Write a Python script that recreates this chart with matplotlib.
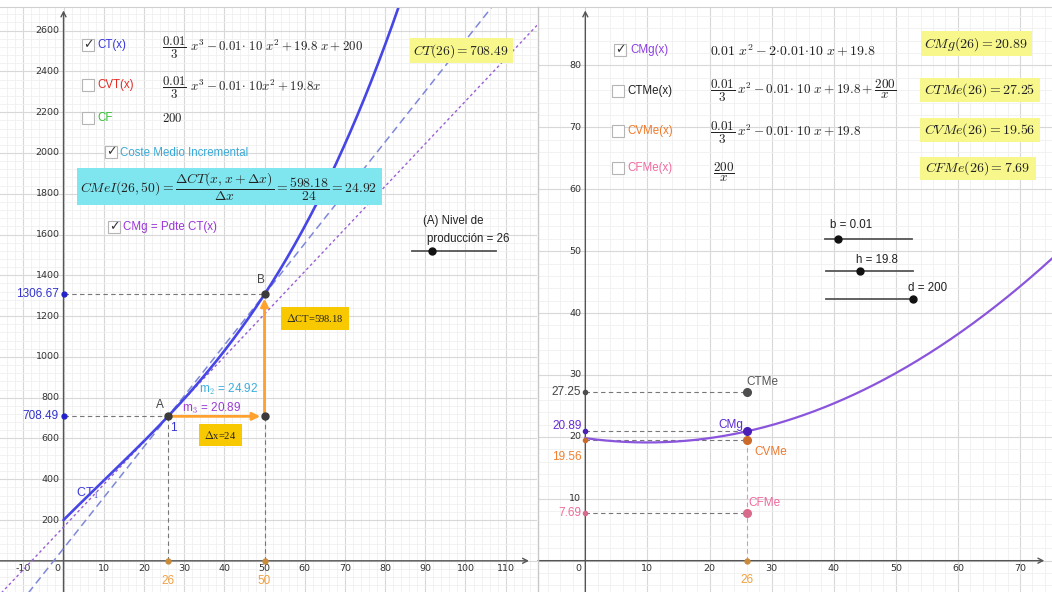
import numpy as np
import matplotlib
matplotlib.use("Agg")
import matplotlib.pyplot as plt
from matplotlib.patches import Rectangle
from matplotlib.lines import Line2D
from matplotlib.transforms import offset_copy

plt.rcParams['mathtext.fontset'] = 'cm'
plt.rcParams['font.family'] = ['Liberation Sans', 'DejaVu Sans']

# ---------------- data ----------------
b_param = 0.007          # shown rounded as 0.01
h_param = 19.8
d_param = 200
x_A = 26                 # nivel de producción
x_B = 50
CT_A = 708.49
CT_B = 1306.67
delta_CT = 598.18
delta_x = 24
m2_secant = 24.92
m3_tangent = 20.89
right_names = ["CTMe", "CMg", "CVMe", "CFMe"]
right_values = [27.25, 20.89, 19.56, 7.69]
left_xticks = [-10, 10, 20, 30, 40, 50, 60, 70, 80, 90, 100, 110]
left_yticks = [200, 400, 600, 800, 1000, 1200, 1400, 1600, 1800, 2000, 2200, 2400, 2600]
right_xticks = [10, 20, 30, 40, 50, 60, 70]
right_yticks = [10, 20, 30, 40, 50, 60, 70, 80]

W, H = 1052, 592
fig = plt.figure(figsize=(W / 100, H / 100), dpi=100)
fig.patch.set_facecolor('white')


def F(px, py):
    return (px / W, 1 - py / H)


def off(ax, dx, dy):
    return offset_copy(ax.transData, fig=fig, x=dx, y=dy, units='dots')


def setup(ax, xlim, ylim, xmaj, xmin_step, ymaj, ymin_step):
    ax.set_xlim(*xlim)
    ax.set_ylim(*ylim)
    ax.set_xticks(np.arange(np.ceil(xlim[0] / xmaj) * xmaj, xlim[1], xmaj))
    ax.set_xticks(np.arange(np.ceil(xlim[0] / xmin_step) * xmin_step, xlim[1], xmin_step), minor=True)
    ax.set_yticks(np.arange(np.ceil(ylim[0] / ymaj) * ymaj, ylim[1], ymaj))
    ax.set_yticks(np.arange(np.ceil(ylim[0] / ymin_step) * ymin_step, ylim[1], ymin_step), minor=True)
    ax.grid(which='major', color='#d8d8d8', lw=0.8)
    ax.grid(which='minor', color='#f0f0f0', lw=0.6)
    ax.set_axisbelow(True)
    ax.tick_params(which='both', length=0, labelbottom=False, labelleft=False)
    for s in ax.spines.values():
        s.set_visible(False)
    ax.annotate('', xy=(xlim[1] - (xlim[1] - xlim[0]) * 0.015, 0), xytext=(xlim[0], 0),
                arrowprops=dict(arrowstyle='->,head_length=0.35,head_width=0.18', color='#555', lw=1.0,
                                shrinkA=0, shrinkB=0), zorder=2)
    ax.annotate('', xy=(0, ylim[1] - (ylim[1] - ylim[0]) * 0.006), xytext=(0, ylim[0]),
                arrowprops=dict(arrowstyle='->,head_length=0.35,head_width=0.18', color='#555', lw=1.0,
                                shrinkA=0, shrinkB=0), zorder=2)


tick_kw = dict(fontsize=6.8, color='#333', family='DejaVu Sans')

# ---------------- left panel ----------------
ax1 = fig.add_axes([0, 0, 537 / W, 585 / H])
xl1 = (-15.80, 117.79)
yl1 = (-153.0, 2716.0)
setup(ax1, xl1, yl1, 10, 2, 200, 40)
for v in left_yticks:
    ax1.text(0, v, str(v), transform=off(ax1, -4, 0), ha='right', va='center', **tick_kw)
for v in left_xticks:
    ax1.text(v, 0, str(v), transform=off(ax1, 0, -8), ha='center', va='center', **tick_kw)
ax1.text(0, 0, "0", transform=off(ax1, -6, -8), ha='center', va='center', **tick_kw)

xs = np.linspace(0, 95, 500)
ct = b_param / 3 * xs ** 3 - 10 * b_param * xs ** 2 + h_param * xs + d_param
ax1.plot(xs, ct, color='#4646e6', lw=1.9, zorder=5, solid_capstyle='round')

xline = np.array(xl1)
ax1.plot(xline, CT_A + m2_secant * (xline - x_A), color='#7f88d8', lw=1.1, ls=(0, (5, 3)), zorder=4)
ax1.plot(xline, CT_A + m3_tangent * (xline - x_A), color='#9a5fd6', lw=1.0, ls=(0, (2, 2)), zorder=4)

dash = dict(color='#777', lw=0.8, ls=(0, (4, 3)), zorder=3)
ax1.plot([0, x_A], [CT_A, CT_A], **dash)
ax1.plot([x_A, x_A], [0, CT_A], **dash)
ax1.plot([0, x_B], [CT_B, CT_B], **dash)
ax1.plot([x_B, x_B], [0, CT_A], **dash)

orange = '#ffa12e'
arr = dict(arrowstyle='-|>,head_length=0.45,head_width=0.22', color=orange, lw=2.0, shrinkA=0, shrinkB=3)
ax1.annotate('', xy=(x_B, CT_A), xytext=(x_A, CT_A), arrowprops=arr, zorder=6)
ax1.annotate('', xy=(x_B, CT_B), xytext=(x_B, CT_A), arrowprops=arr, zorder=6)

for (px, py) in [(x_A, CT_A), (x_B, CT_B), (x_B, CT_A)]:
    ax1.plot(px, py, 'o', ms=5, color='#3a3a3a', zorder=8)
ax1.plot([x_A, x_B], [0, 0], 'o', ms=3.5, color='#c98a3a', zorder=8)
ax1.plot([0, 0], [CT_A, CT_B], 'o', ms=3.5, color='#2222cc', zorder=8)

ax1.text(x_A, CT_A, "A", transform=off(ax1, -8, 11), ha='center', va='center', fontsize=8.5, color='#444')
ax1.text(x_B, CT_B, "B", transform=off(ax1, -4, 14), ha='center', va='center', fontsize=8.5, color='#444')
ax1.text(x_A, CT_A, "1", transform=off(ax1, 5, -12), ha='center', va='center', fontsize=8.5, color='#3333cc')
ax1.text(3.0, 330, r"CT$_1$", ha='left', va='center', fontsize=9, color='#3a3ad8')
ax1.text(33.8, 842, r"m$_2$ = %.2f" % m2_secant, ha='left', va='center', fontsize=8.5, color='#3aaee0', zorder=9)
ax1.text(29.5, 749, r"m$_3$ = %.2f" % m3_tangent, ha='left', va='center', fontsize=8.5, color='#9b3ad6', zorder=9)
ax1.text(0, CT_B, "%.2f" % CT_B, transform=off(ax1, -5, 0), ha='right', va='center', fontsize=8.5, color='#3333cc')
ax1.text(0, CT_A, "%.2f" % CT_A, transform=off(ax1, -5, 0), ha='right', va='center', fontsize=8.5, color='#3333cc')
ax1.text(x_A, 0, str(x_A), transform=off(ax1, 0, -20), ha='center', va='center', fontsize=8.5, color='#f0a040')
ax1.text(x_B, 0, str(x_B), transform=off(ax1, 0, -20), ha='center', va='center', fontsize=8.5, color='#f0a040')

gold = '#f8c800'
ax1.text(62.6, 1189, r"$\Delta$CT=%.2f" % delta_CT, ha='center', va='center', fontsize=7.6,
         family='Liberation Serif', color='#222', zorder=9,
         bbox=dict(boxstyle='square,pad=0.5', fc=gold, ec='none'))
ax1.text(39.0, 617, r"$\Delta$x=%d" % delta_x, ha='center', va='center', fontsize=7.6,
         family='Liberation Serif', color='#222', zorder=9,
         bbox=dict(boxstyle='square,pad=0.5', fc=gold, ec='none'))

# ---------------- right panel ----------------
ax2 = fig.add_axes([538 / W, 0, (W - 538) / W, 585 / H])
xl2 = (-7.62, 75.15)
yl2 = (-5.06, 89.45)
setup(ax2, xl2, yl2, 10, 2, 10, 2)
for v in right_yticks:
    ax2.text(0, v, str(v), transform=off(ax2, -4, 0), ha='right', va='center', **tick_kw)
for v in right_xticks:
    ax2.text(v, 0, str(v), transform=off(ax2, 0, -8), ha='center', va='center', **tick_kw)
ax2.text(0, 0, "0", transform=off(ax2, -7, -8), ha='center', va='center', **tick_kw)

xs2 = np.linspace(0, 80, 400)
cmg = b_param * xs2 ** 2 - 20 * b_param * xs2 + h_param
ax2.plot(xs2, cmg, color='#8a55dc', lw=1.6, zorder=5)

pt_colors = ['#4d4d4d', '#4a1fb8', '#cc6a2a', '#d86a8c']
lab_colors = ['#555555', '#5a2ad0', '#ee7a30', '#ee6a9c']
axis_lab_colors = ['#444444', '#6a2ad8', '#f08030', '#f06a9a']
for val in right_values:
    ax2.plot([0, x_A], [val, val], **dash)
ax2.plot([x_A, x_A], [0, right_values[2]], color='#c9a0b0', lw=0.8, ls=(0, (4, 3)), zorder=3)
for val, pc in zip(right_values, pt_colors):
    ax2.plot(x_A, val, 'o', ms=5.5, color=pc, zorder=8)
    ax2.plot(0, val, 'o', ms=3, color=pc, zorder=8)
ax2.plot(x_A, 0, 'o', ms=3.5, color='#c98a3a', zorder=8)

label_offsets = [(0, 10, 'left'), (-4, 6, 'right'), (8, -12, 'left'), (2, 10, 'left')]
for name, val, c, (dx, dy, ha) in zip(right_names, right_values, lab_colors, label_offsets):
    ax2.text(x_A, val, name, transform=off(ax2, dx, dy), ha=ha, va='center', fontsize=8.5, color=c)
axis_offsets = [0, 5, -17, 0]
for val, c, dy in zip(right_values, axis_lab_colors, axis_offsets):
    ax2.text(0, val, "%.2f" % val, transform=off(ax2, -4, dy), ha='right', va='center', fontsize=8.5, color=c)
ax2.text(x_A, 0, str(x_A), transform=off(ax2, 0, -19), ha='center', va='center', fontsize=8.5, color='#f0a040')

# ---------------- overlay widgets ----------------
fig.add_artist(Line2D([0, 1], [1 - 7 / H, 1 - 7 / H], transform=fig.transFigure, color='#d0d0d0', lw=0.8))
fig.add_artist(Line2D([537.5 / W, 537.5 / W], [0, 1 - 7 / H], transform=fig.transFigure, color='#c8c8c8', lw=1.0))


def checkbox(px, py, checked):
    x0, y0 = F(px, py + 12)
    fig.add_artist(Rectangle((x0, y0), 12 / W, 12 / H, transform=fig.transFigure,
                             fc='white', ec='#b5b5b5', lw=0.8))
    if checked:
        fig.text(*F(px + 6, py + 6), "\u2713", ha='center', va='center', fontsize=9,
                 color='#333', family='DejaVu Sans')


def label(px, py, s, color, size=8.3, ha='left', **kw):
    fig.text(*F(px, py), s, ha=ha, va='center', fontsize=size, color=color, **kw)


def box(px0, py0, px1, py1, color):
    x0, y0 = F(px0, py1)
    fig.add_artist(Rectangle((x0, y0), (px1 - px0) / W, (py1 - py0) / H, transform=fig.transFigure,
                             fc=color, ec='none'))


def slider(px0, px1, py, pdot):
    fig.add_artist(Line2D([px0 / W, px1 / W], [1 - py / H] * 2, transform=fig.transFigure,
                          color='#555', lw=1.3))
    fig.add_artist(Line2D([pdot / W], [1 - py / H], transform=fig.transFigure, marker='o',
                          ms=5, color='#111', lw=0))


# left panel widgets
checkbox(82, 39, True)
label(97, 45, "CT(x)", '#3535d8')
label(162, 48, r"$\dfrac{0.01}{3}\ x^3-0.01{\cdot}\ 10\ x^2+19.8\ x+200$", '#222', size=9.3)
checkbox(82, 79, False)
label(97, 85, "CVT(x)", '#e22a22')
label(162, 88, r"$\dfrac{0.01}{3}\ x^3-0.01{\cdot}\ 10x^2+19.8x$", '#222', size=9.3)
checkbox(82, 112, False)
label(97, 118, "CF", '#33c033')
label(162, 119, r"$200$", '#222', size=9.3)
checkbox(105, 146, True)
label(120, 153, "Coste Medio Incremental", '#39a9d6')
box(77, 168, 382, 205, '#7fe6ef')
label(229, 187, r"$CMeI(26,50)=\dfrac{\Delta CT(x,x+\Delta x)}{\Delta x}=\dfrac{598.18}{24}=24.92$",
      '#222', size=9.9, ha='center')
checkbox(108, 221, True)
label(123, 227, "CMg = Pdte CT(x)", '#9a33d8')
box(410, 38, 513, 63, '#f7f78c')
label(461, 51, r"$CT(26)=708.49$", '#222', size=9.7, ha='center')
label(423, 221, "(A) Nivel de", '#222')
label(427, 239, "producción = %d" % x_A, '#222')
slider(412, 496, 251, 432)

# right panel widgets
checkbox(614, 44, True)
label(630, 50, "CMg(x)", '#8a3ee0')
label(710, 51, r"$0.01\ x^2-2{\cdot}0.01{\cdot}10\ x+19.8$", '#222', size=10)
box(921, 31, 1032, 56, '#f7f78c')
label(976, 44, r"$CMg(26)=20.89$", '#222', size=10, ha='center')

checkbox(612, 85, False)
label(627, 91, "CTMe(x)", '#222')
label(710, 91, r"$\dfrac{0.01}{3}\,x^2-0.01{\cdot}\ 10\ x+19.8+\dfrac{200}{x}$", '#222', size=9.5)
box(920, 78, 1040, 102, '#f7f78c')
label(980, 90, r"$CTMe(26)=27.25$", '#222', size=10, ha='center')

checkbox(612, 125, False)
label(627, 131, "CVMe(x)", '#f07a2a')
label(710, 133, r"$\dfrac{0.01}{3}\,x^2-0.01{\cdot}\ 10\ x+19.8$", '#222', size=9.5)
box(920, 118, 1040, 142, '#f7f78c')
label(980, 130, r"$CVMe(26)=19.56$", '#222', size=10, ha='center')

checkbox(612, 162, False)
label(627, 168, "CFMe(x)", '#f06aa0')
label(713, 172, r"$\dfrac{200}{x}$", '#222', size=9.5)
box(920, 157, 1036, 180, '#f7f78c')
label(978, 168, r"$CFMe(26)=7.69$", '#222', size=10, ha='center')

label(830, 225, "b = 0.01", '#222')
slider(825, 912, 239, 838)
label(856, 260, "h = 19.8", '#222')
slider(826, 913, 271, 860)
label(908, 288, "d = 200", '#222')
slider(826, 913, 299, 913)

fig.savefig("out.png", dpi=100)
